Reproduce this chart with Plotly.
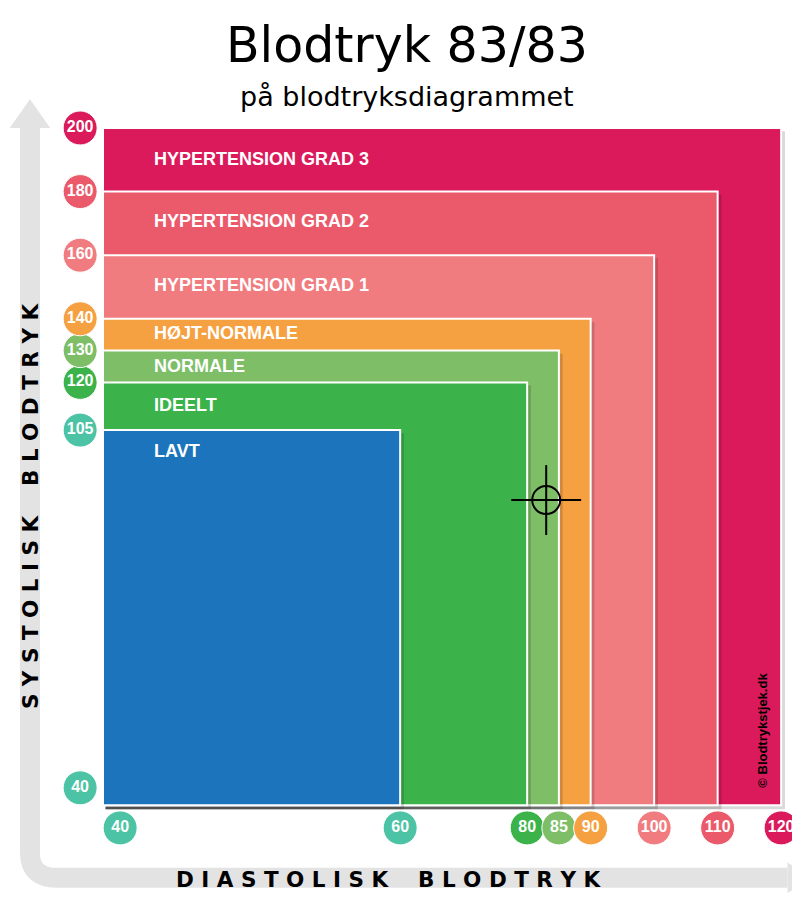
import plotly.graph_objects as go

# --- data ---
zones = ["HYPERTENSION GRAD 3", "HYPERTENSION GRAD 2", "HYPERTENSION GRAD 1",
         "HØJT-NORMALE", "NORMALE", "IDEELT", "LAVT"]
zone_dia = [120, 110, 100, 90, 85, 80, 60]
zone_sys = [200, 180, 160, 140, 130, 120, 105]
zone_colors = ["#DA1A5A", "#EB5A6B", "#F07C80", "#F5A142", "#7DBE66", "#3BB34A", "#1C75BC"]
label_drop = [9.7, 9.4, 9.4, 4.4, 4.7, 7.2, 6.6]  # label offset below zone top (axis units)

x_ticks = [40, 60, 80, 85, 90, 100, 110, 120]
x_tick_colors = ["#4DC3A5", "#4DC3A5", "#3BB34A", "#7DBE66", "#F5A142", "#F07C80", "#EB5A6B", "#DA1A5A"]
y_ticks = [40, 105, 120, 130, 140, 160, 180, 200]
y_tick_colors = ["#4DC3A5", "#4DC3A5", "#3BB34A", "#7DBE66", "#F5A142", "#F07C80", "#EB5A6B", "#DA1A5A"]

reading_sys, reading_dia = 83, 83

# piecewise axis transforms (compressed low region)
def tx(v):
    return v if v >= 60 else 60 - (60 - v) * 46.8 / 20

def ty(v):
    return v if v >= 105 else 105 - (105 - v) * 118 / 65

X0, Y0 = tx(40), ty(40)
FONT = "Liberation Sans, Arial"
fig = go.Figure()
shapes = []
gray = "#E3E3E3"
shapes.append(dict(type="path", path="M 1.7 200 L 1.7 -28 Q 1.7 -35.8 6 -35.8 L 121 -35.8",
                   line=dict(color=gray, width=20), layer="below"))
shapes.append(dict(type="path", path="M -1.5 200 L 4.9 200 L 1.7 209 Z", fillcolor=gray, line=dict(width=0), layer="below"))
shapes.append(dict(type="path", path="M 121 -31 L 121 -40.6 L 125 -35.8 Z", fillcolor=gray, line=dict(width=0), layer="below"))

for name, d, s, c, dr in zip(zones, zone_dia, zone_sys, zone_colors, label_drop):
    shapes.append(dict(type="rect", x0=X0 + 0.4, x1=tx(d) + 0.6, y0=Y0 - 1.2, y1=ty(s) - 1.0,
                       fillcolor="rgba(0,0,0,0.15)", line=dict(width=0), layer="below"))
    shapes.append(dict(type="rect", x0=X0, x1=tx(d), y0=Y0, y1=ty(s),
                       fillcolor=c, line=dict(color="white", width=2), layer="below"))
    fig.add_annotation(x=X0 + 7.7, y=ty(s) - dr, text="<b>%s</b>" % name, showarrow=False,
                       xanchor="left", font=dict(family=FONT, size=18, color="white"))

# crosshair
shapes.append(dict(type="line", x0=reading_dia - 5.5, x1=reading_dia + 5.5, y0=reading_sys, y1=reading_sys,
                   line=dict(color="black", width=2)))
shapes.append(dict(type="line", x0=reading_dia, x1=reading_dia, y0=reading_sys - 11, y1=reading_sys + 11,
                   line=dict(color="black", width=2)))
shapes.append(dict(type="circle", x0=reading_dia - 2.2, x1=reading_dia + 2.2, y0=reading_sys - 4.4, y1=reading_sys + 4.4,
                   line=dict(color="black", width=2)))

# tick badges; the origin badges are nudged inward so they do not overlap the corner
xt_pos = [max(tx(v), X0 + 2.7) for v in x_ticks]
yt_pos = [max(ty(v), Y0 + 5.5) for v in y_ticks]
fig.add_trace(go.Scatter(x=xt_pos, y=[-20.1] * len(x_ticks), mode="markers+text",
                         marker=dict(size=34, color=x_tick_colors, line=dict(color="white", width=1)),
                         text=["<b>%d</b>" % v for v in x_ticks], textposition="middle center",
                         textfont=dict(family=FONT, size=16, color="white"), hoverinfo="skip"))
fig.add_trace(go.Scatter(x=[9.6] * len(y_ticks), y=yt_pos, mode="markers+text",
                         marker=dict(size=34, color=y_tick_colors, line=dict(color="white", width=1)),
                         text=["<b>%d</b>" % v for v in y_ticks], textposition="middle center",
                         textfont=dict(family=FONT, size=16, color="white"), hoverinfo="skip"))

fig.add_annotation(x=61, y=226, text="Blodtryk 83/83", showarrow=False,
                   font=dict(family="DejaVu Sans", size=49, color="black"))
fig.add_annotation(x=61, y=210, text="på blodtryksdiagrammet", showarrow=False,
                   font=dict(family="DejaVu Sans", size=27, color="black"))
fig.add_annotation(x=58.1, y=-36.4, text="<b>D I A S T O L I S K&nbsp;&nbsp;&nbsp;&nbsp;B L O D T R Y K</b>", showarrow=False,
                   font=dict(family="DejaVu Sans", size=21.5, color="black"))
fig.add_annotation(x=1.7, y=81.4, text="<b>S Y S T O L I S K&nbsp;&nbsp;&nbsp;&nbsp;B L O D T R Y K</b>", showarrow=False,
                   textangle=-90, font=dict(family="DejaVu Sans", size=21.5, color="black"))
fig.add_annotation(x=117.1, y=10.7, text="<b>© Blodtrykstjek.dk</b>", showarrow=False, textangle=-90,
                   font=dict(family=FONT, size=13, color="black"))

fig.update_layout(width=800, height=908, margin=dict(l=0, r=0, t=0, b=0), showlegend=False,
                  plot_bgcolor="white", paper_bgcolor="white", shapes=shapes,
                  xaxis=dict(range=[-1.76, 124.23], visible=False, fixedrange=True),
                  yaxis=dict(range=[-47.8, 237.73], visible=False, fixedrange=True))
fig.write_html("out.html")
